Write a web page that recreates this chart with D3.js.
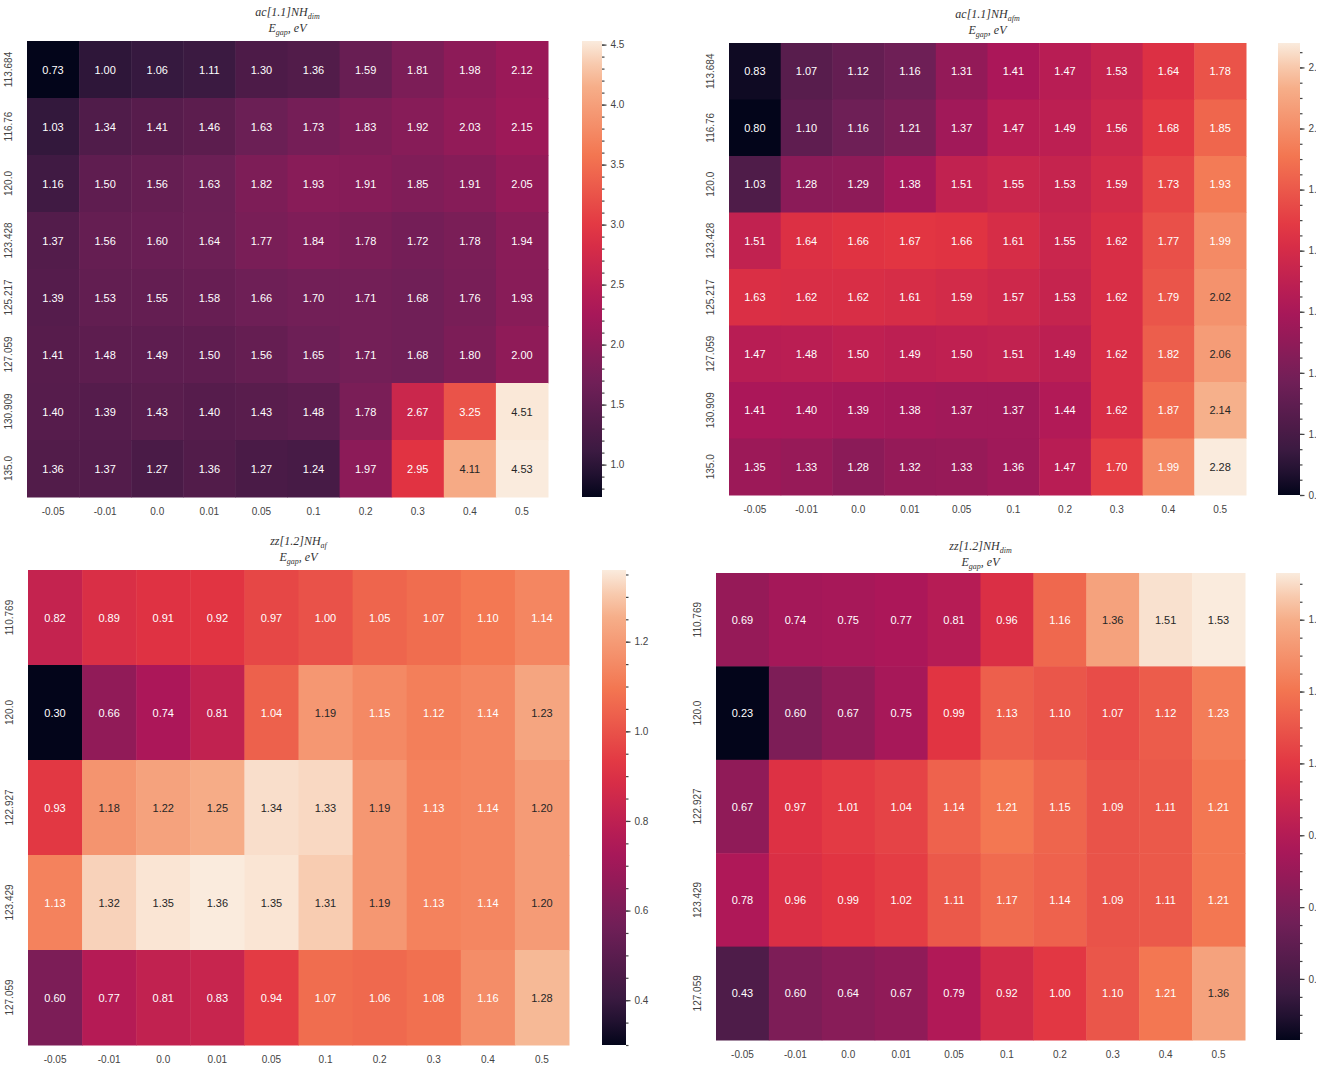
<!DOCTYPE html>
<html>
<head>
<meta charset="utf-8">
<script src="https://cdn.jsdelivr.net/npm/d3@7"></script>
<style>
  body { margin: 0; background: #fff; }
  text { font-family: "Liberation Sans", Arial, sans-serif; }
  .ttl { font-family: "Liberation Serif", "DejaVu Serif", serif; font-style: italic; }
</style>
</head>
<body>
<div id="graph"></div>
<script>
// shared tick labels
const xLabels = ['-0.05', '-0.01', '0.0', '0.01', '0.05', '0.1', '0.2', '0.3', '0.4', '0.5']
const yLabelsAc = ['113.684', '116.76', '120.0', '123.428', '125.217', '127.059', '130.909', '135.0']
const yLabelsZz = ['110.769', '120.0', '122.927', '123.429', '127.059']

// E_gap values, one row per y label
const acDim = [
    [0.73, 1.00, 1.06, 1.11, 1.30, 1.36, 1.59, 1.81, 1.98, 2.12],
    [1.03, 1.34, 1.41, 1.46, 1.63, 1.73, 1.83, 1.92, 2.03, 2.15],
    [1.16, 1.50, 1.56, 1.63, 1.82, 1.93, 1.91, 1.85, 1.91, 2.05],
    [1.37, 1.56, 1.60, 1.64, 1.77, 1.84, 1.78, 1.72, 1.78, 1.94],
    [1.39, 1.53, 1.55, 1.58, 1.66, 1.70, 1.71, 1.68, 1.76, 1.93],
    [1.41, 1.48, 1.49, 1.50, 1.56, 1.65, 1.71, 1.68, 1.80, 2.00],
    [1.40, 1.39, 1.43, 1.40, 1.43, 1.48, 1.78, 2.67, 3.25, 4.51],
    [1.36, 1.37, 1.27, 1.36, 1.27, 1.24, 1.97, 2.95, 4.11, 4.53]
]
const acAfm = [
    [0.83, 1.07, 1.12, 1.16, 1.31, 1.41, 1.47, 1.53, 1.64, 1.78],
    [0.80, 1.10, 1.16, 1.21, 1.37, 1.47, 1.49, 1.56, 1.68, 1.85],
    [1.03, 1.28, 1.29, 1.38, 1.51, 1.55, 1.53, 1.59, 1.73, 1.93],
    [1.51, 1.64, 1.66, 1.67, 1.66, 1.61, 1.55, 1.62, 1.77, 1.99],
    [1.63, 1.62, 1.62, 1.61, 1.59, 1.57, 1.53, 1.62, 1.79, 2.02],
    [1.47, 1.48, 1.50, 1.49, 1.50, 1.51, 1.49, 1.62, 1.82, 2.06],
    [1.41, 1.40, 1.39, 1.38, 1.37, 1.37, 1.44, 1.62, 1.87, 2.14],
    [1.35, 1.33, 1.28, 1.32, 1.33, 1.36, 1.47, 1.70, 1.99, 2.28]
]
const zzAf = [
    [0.82, 0.89, 0.91, 0.92, 0.97, 1.00, 1.05, 1.07, 1.10, 1.14],
    [0.30, 0.66, 0.74, 0.81, 1.04, 1.19, 1.15, 1.12, 1.14, 1.23],
    [0.93, 1.18, 1.22, 1.25, 1.34, 1.33, 1.19, 1.13, 1.14, 1.20],
    [1.13, 1.32, 1.35, 1.36, 1.35, 1.31, 1.19, 1.13, 1.14, 1.20],
    [0.60, 0.77, 0.81, 0.83, 0.94, 1.07, 1.06, 1.08, 1.16, 1.28]
]
const zzDim = [
    [0.69, 0.74, 0.75, 0.77, 0.81, 0.96, 1.16, 1.36, 1.51, 1.53],
    [0.23, 0.60, 0.67, 0.75, 0.99, 1.13, 1.10, 1.07, 1.12, 1.23],
    [0.67, 0.97, 1.01, 1.04, 1.14, 1.21, 1.15, 1.09, 1.11, 1.21],
    [0.78, 0.96, 0.99, 1.02, 1.11, 1.17, 1.14, 1.09, 1.11, 1.21],
    [0.43, 0.60, 0.64, 0.67, 0.79, 0.92, 1.00, 1.10, 1.21, 1.36]
]

// seaborn "rocket" approximated by stops
const rocketStops = ['#03051a', '#35193e', '#701f57', '#ad1759', '#e13342', '#f37651', '#f6b48f', '#faebdd']
const rocketPos = [0, 0.083, 0.25, 0.417, 0.583, 0.75, 0.917, 1]
const rocket = d3.scaleLinear().domain(rocketPos).range(rocketStops).interpolate(d3.interpolateRgb)

const panels = [
    { data: acDim, ys: yLabelsAc, sub: 'dim', pre: 'ac[1.1]', box: [27, 41, 548, 497], cb: [582, 602], tyl: 16, major: 0.5, minor: 0.1 },
    { data: acAfm, ys: yLabelsAc, sub: 'afm', pre: 'ac[1.1]', box: [729, 43, 1246, 495], cb: [1278, 1300], tyl: 18, major: 0.2, minor: 0.05 },
    { data: zzAf, ys: yLabelsZz, sub: 'af', pre: 'zz[1.2]', box: [28, 570, 569, 1045], cb: [602, 626], tyl: 545, major: 0.2, minor: 0.05 },
    { data: zzDim, ys: yLabelsZz, sub: 'dim', pre: 'zz[1.2]', box: [716, 573, 1245, 1040], cb: [1276, 1300], tyl: 550, major: 0.2, minor: 0.05 }
]

const svg = d3.select('#graph')
    .append('svg')
    .attr('width', 1325)
    .attr('height', 1068)

// the right colorbar labels are cut by the picture edge
svg.append('defs').append('clipPath').attr('id', 'edge')
    .append('rect').attr('x', 0).attr('y', 0).attr('width', 1316).attr('height', 1068)

// seaborn picks dark text on light cells
const lum = (c) => {
    const rgb = d3.rgb(c)
    const f = (v) => { v = v / 255; return v <= 0.03928 ? v / 12.92 : Math.pow((v + 0.055) / 1.055, 2.4) }
    return 0.2126 * f(rgb.r) + 0.7152 * f(rgb.g) + 0.0722 * f(rgb.b)
}

panels.forEach((p, pi) => {
    const [x0, y0, x1, y1] = p.box
    const flat = p.data.flat()
    const vmin = d3.min(flat), vmax = d3.max(flat)
    const colour = (v) => rocket((v - vmin) / (vmax - vmin))

    const x = d3.scaleBand().domain(xLabels).range([x0, x1])
    const y = d3.scaleBand().domain(p.ys).range([y0, y1])

    const cells = []
    p.data.forEach((row, ri) => row.forEach((v, ci) => cells.push({ r: p.ys[ri], c: xLabels[ci], v })))

    const g = svg.append('g').attr('clip-path', 'url(#edge)')

    g.selectAll('rect.cell')
        .data(cells)
        .enter().append('rect')
        .attr('class', 'cell')
        .attr('x', d => x(d.c))
        .attr('y', d => y(d.r))
        .attr('width', x.bandwidth() + 0.5)
        .attr('height', y.bandwidth() + 0.5)
        .attr('fill', d => colour(d.v))

    g.selectAll('text.ann')
        .data(cells)
        .enter().append('text')
        .attr('class', 'ann')
        .attr('x', d => x(d.c) + x.bandwidth() / 2)
        .attr('y', d => y(d.r) + y.bandwidth() / 2)
        .attr('text-anchor', 'middle')
        .attr('dominant-baseline', 'central')
        .attr('font-size', 11)
        .attr('fill', d => lum(colour(d.v)) > 0.408 ? '#262626' : '#fff')
        .text(d => d.v.toFixed(2))

    // axes without tick marks, like seaborn heatmap
    const xAxis = g.append('g')
        .attr('transform', 'translate(0,' + y1 + ')')
        .call(d3.axisBottom(x).tickSize(0).tickPadding(11))
    const yAxis = g.append('g')
        .attr('transform', 'translate(' + x0 + ',0)')
        .call(d3.axisLeft(y).tickSize(0))
    ;[xAxis, yAxis].forEach(a => {
        a.select('.domain').remove()
        a.selectAll('text').attr('font-size', 10).attr('fill', '#444').attr('font-family', '"Liberation Sans", Arial, sans-serif')
    })
    yAxis.selectAll('text')
        .attr('x', 0)
        .attr('text-anchor', 'middle')
        .attr('dy', 0)
        .attr('transform', 'translate(-15,0) rotate(-90)')

    // title, two lines of math-like text
    const cx = (x0 + x1) / 2
    const t1 = g.append('text').attr('class', 'ttl').attr('x', cx).attr('y', p.tyl)
        .attr('text-anchor', 'middle').attr('font-size', 12).attr('fill', '#333')
    t1.append('tspan').text(p.pre + 'NH')
    t1.append('tspan').attr('dy', 3).attr('font-size', 8).text(p.sub)
    const t2 = g.append('text').attr('class', 'ttl').attr('x', cx).attr('y', p.tyl + 16)
        .attr('text-anchor', 'middle').attr('font-size', 12).attr('fill', '#333')
    t2.append('tspan').text('E')
    t2.append('tspan').attr('dy', 3).attr('font-size', 8).text('gap')
    t2.append('tspan').attr('dy', -3).text(', eV')

    // colorbar
    const [cb0, cb1] = p.cb
    const cy = d3.scaleLinear().domain([vmin, vmax]).range([y1, y0])
    const gid = 'grad' + pi
    const grad = svg.append('defs').append('linearGradient')
        .attr('id', gid).attr('x1', 0).attr('x2', 0).attr('y1', 1).attr('y2', 0)
    d3.range(0, 1.0001, 0.05).forEach(t => {
        grad.append('stop').attr('offset', t).attr('stop-color', rocket(t))
    })
    g.append('rect')
        .attr('x', cb0).attr('y', y0)
        .attr('width', cb1 - cb0).attr('height', y1 - y0)
        .attr('fill', 'url(#' + gid + ')')

    const majors = d3.range(Math.ceil(vmin / p.major - 1e-9) * p.major, vmax + 1e-9, p.major)
    const minors = d3.range(Math.ceil(vmin / p.minor - 1e-9) * p.minor, vmax + 1e-9, p.minor)

    const minAx = g.append('g').attr('transform', 'translate(' + cb1 + ',0)')
        .call(d3.axisRight(cy).tickValues(minors).tickSize(2.5).tickFormat(''))
    const majAx = g.append('g').attr('transform', 'translate(' + cb1 + ',0)')
        .call(d3.axisRight(cy).tickValues(majors).tickSize(4.5).tickPadding(4).tickFormat(d3.format('.1f')))
    ;[minAx, majAx].forEach(a => {
        a.select('.domain').remove()
        a.selectAll('line').attr('stroke', '#444').attr('stroke-width', 1.2)
    })
    majAx.selectAll('text').attr('font-size', 10).attr('fill', '#444').attr('font-family', '"Liberation Sans", Arial, sans-serif')
})
</script>
</body>
</html>
